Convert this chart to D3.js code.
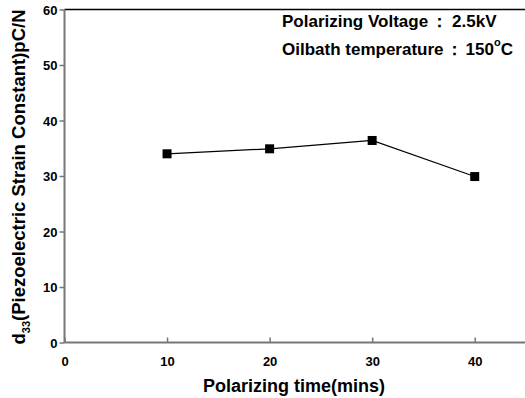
<!DOCTYPE html>
<html><head><meta charset="utf-8">
<script src="https://cdn.jsdelivr.net/npm/d3@7"></script>
<style>body{margin:0;background:#fff}svg{display:block;font-family:Arial,"Liberation Sans",sans-serif}</style>
</head><body>
<script>
const times = [10, 20, 30, 40];
const d33 = [34.0, 34.9, 36.4, 29.9];
const xTicks = [0, 10, 20, 30, 40];
const yTicks = [0, 10, 20, 30, 40, 50, 60];

const W = 525, H = 398;
const svg = d3.select("body").append("svg").attr("width", W).attr("height", H);
const x = d3.scaleLinear().domain([0, 45]).range([64.5, 526]);
const y = d3.scaleLinear().domain([0, 60]).range([342.5, 9.5]);

svg.append("line").attr("x1", x(0)).attr("x2", W).attr("y1", y(60)).attr("y2", y(60))
  .attr("stroke", "#000").attr("stroke-width", 1.3);

const xAxis = svg.append("g").attr("transform", `translate(0,${y(0)})`)
  .call(d3.axisTop(x).tickValues(xTicks).tickSize(5).tickFormat(d3.format("d")));
xAxis.select(".domain").attr("stroke", "#777").attr("stroke-width", 2).attr("d", `M${x(0)},0H${W}`);
xAxis.selectAll(".tick line").attr("stroke", "#777").attr("stroke-width", 1.5);
xAxis.selectAll(".tick text").attr("y", 23).attr("dy", 0).attr("font-size", 13).attr("font-weight", "bold").attr("fill", "#000");

const yAxis = svg.append("g").attr("transform", `translate(${x(0)},0)`)
  .call(d3.axisLeft(y).tickValues(yTicks).tickSize(5).tickFormat(d3.format("d")));
yAxis.select(".domain").attr("stroke", "#777").attr("stroke-width", 2).attr("d", `M0,${y(60)}V${y(0)}`);
yAxis.selectAll(".tick line").attr("stroke", "#777").attr("stroke-width", 1.5);
yAxis.selectAll(".tick text").attr("x", -7).attr("dy", "0.35em").attr("font-size", 13).attr("font-weight", "bold").attr("fill", "#000");

const pts = times.map((t, i) => [t, d33[i]]);
svg.append("path").datum(pts)
  .attr("d", d3.line().x(d => x(d[0])).y(d => y(d[1])))
  .attr("fill", "none").attr("stroke", "#000").attr("stroke-width", 1.2);
svg.selectAll("rect.m").data(pts).join("rect").attr("class", "m")
  .attr("x", d => x(d[0]) - 4.5).attr("y", d => y(d[1]) - 4.5)
  .attr("width", 9).attr("height", 9).attr("fill", "#000");

svg.append("text").attr("x", 294).attr("y", 392).attr("text-anchor", "middle")
  .attr("font-size", 18).attr("font-weight", "bold").text("Polarizing time(mins)");
const yl = svg.append("text").attr("transform", "translate(25,177) rotate(-90)")
  .attr("text-anchor", "middle").attr("font-size", 18.5).attr("font-weight", "bold");
yl.append("tspan").text("d");
yl.append("tspan").attr("font-size", 11).attr("dy", 5).text("33");
yl.append("tspan").attr("dy", -5).text("(Piezoelectric Strain Constant)pC/N");

const a1 = svg.append("text").attr("x", 282).attr("y", 27).attr("font-size", 17).attr("font-weight", "bold");
a1.append("tspan").text("Polarizing Voltage");
a1.append("tspan").attr("dx", 3).text("：");
a1.append("tspan").attr("dx", 4).text("2.5kV");
const a2 = svg.append("text").attr("x", 282).attr("y", 55).attr("font-size", 17).attr("font-weight", "bold");
a2.append("tspan").text("Oilbath temperature");
a2.append("tspan").attr("dx", 2).text("：");
a2.append("tspan").attr("dx", 3).text("150");
a2.append("tspan").attr("font-size", 11).attr("dy", -9).text("o");
a2.append("tspan").attr("dy", 9).text("C");
</script>
</body></html>
